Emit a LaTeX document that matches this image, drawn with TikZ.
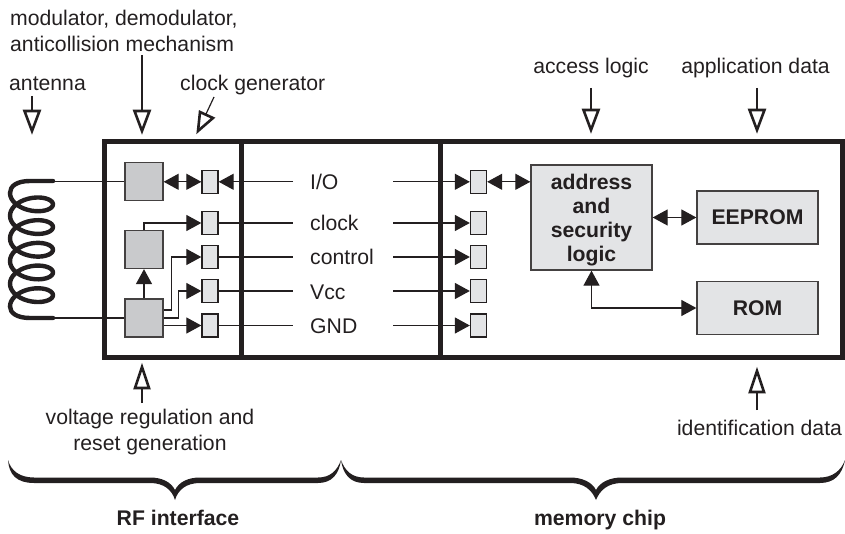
\documentclass[tikz,border=0pt]{standalone}
\usepackage{fontspec}
\setmainfont{Liberation Sans}
\usetikzlibrary{arrows.meta,calc}
\definecolor{ink}{HTML}{231F20}
\definecolor{darkfill}{HTML}{C9CACC}
\definecolor{lightfill}{HTML}{E3E4E6}
\tikzset{
  txt/.style={text=ink,inner sep=0pt,font=\fontsize{21.2}{26}\selectfont},
  boldtxt/.style={txt,font=\fontsize{21.2}{26}\selectfont\bfseries},
  darkbox/.style={draw=ink!85,line width=1.3pt,fill=darkfill,inner sep=0pt,minimum width=38pt,minimum height=38pt},
  pin/.style={draw=ink,line width=1.3pt,fill=lightfill,inner sep=0pt,minimum width=16pt,minimum height=23pt},
  membox/.style={draw=ink!85,line width=1.3pt,fill=lightfill,inner sep=0pt},
  wire/.style={draw=ink,line width=1.2pt},
  solidtip/.style={-{Triangle[length=15pt,width=16pt]}},
  bothtip/.style={{Triangle[length=15pt,width=16pt]}-{Triangle[length=15pt,width=16pt]}},
  callout/.style={draw=ink,line width=1.2pt},
  hollow/.style={draw=ink,line width=2.6pt,fill=white,line join=miter},
  frame/.style={draw=ink,line width=5pt},
  coilline/.style={draw=ink,line width=4.4pt,line cap=round,line join=round},
}
\begin{document}
\begin{tikzpicture}[x=1pt,y=-1pt]
\useasboundingbox (0,0) rectangle (845,534);

% frame
\draw[frame] (104,142) rectangle (842,357);
\draw[frame] (241,142) -- (241,357);
\draw[frame] (440,142) -- (440,357);

% coil
\draw[coilline] plot[variable=\x,domain=0:1800,samples=181] ({31.5-21.5*cos(\x)},{193+\x/360*22.7+12*sin(\x)});
\draw[coilline] (53,181) -- (30,181) .. controls (17,181) and (10,186) .. (10,193);
\draw[coilline] (10,306.5) .. controls (10,313) and (17,318) .. (30,318) -- (53,318);
\coordinate (coilA) at (53,181.8);
\coordinate (coilB) at (53,318);

% RF blocks
\node[darkbox] (mod) at (144,181.8) {};
\node[darkbox] (clk) at (144,249.5) {};
\node[darkbox] (vreg) at (144,318) {};

% pins
\node[pin] (p1) at (210,181.8) {};
\node[pin] (p2) at (210,223) {};
\node[pin] (p3) at (210,257) {};
\node[pin] (p4) at (210,291) {};
\node[pin] (p5) at (210,325.5) {};
\node[pin] (q1) at (478.5,181.8) {};
\node[pin] (q2) at (478.5,223) {};
\node[pin] (q3) at (478.5,257) {};
\node[pin] (q4) at (478.5,291) {};
\node[pin] (q5) at (478.5,325.5) {};

% memory blocks
\node[membox,minimum width=121pt,minimum height=105pt,align=center,boldtxt,font=\fontsize{21.2}{24}\selectfont\bfseries] (addr) at (591.5,217.5) {\rule{0pt}{21pt}address\\and\\security\\logic};
\node[membox,minimum width=121pt,minimum height=53pt,boldtxt] (eeprom) at (757.5,217.5) {EEPROM};
\node[membox,minimum width=121pt,minimum height=53pt,boldtxt] (rom) at (757.5,308) {ROM};

% signal labels
\node[txt,anchor=base west] (lio) at (310,190) {I/O};
\node[txt,anchor=base west] (lclock) at (310,231) {clock};
\node[txt,anchor=base west] (lcontrol) at (310,265) {control};
\node[txt,anchor=base west] (lvcc) at (310,299) {Vcc};
\node[txt,anchor=base west] (lgnd) at (310,333) {GND};

\foreach \n/\y in {1/181.8,2/223,3/257,4/291,5/325.5}{
  \coordinate (la\n) at (293,\y);
  \coordinate (ra\n) at (393,\y);
  \draw[wire,solidtip] (ra\n) -- (q\n.west);
}
\foreach \n in {2,3,4,5}{ \draw[wire] (p\n.east) -- (la\n); }
\draw[wire,solidtip] (la1) -- (p1.east);

% connectors
\draw[wire] (coilA) -- (mod.west);
\draw[wire] (coilB) -- (vreg.west);
\draw[wire,bothtip] (mod.east) -- (p1.west);
\draw[wire,solidtip] (clk.north) |- (p2.west);
\draw[wire,solidtip] (vreg.north) -- (clk.south);
\coordinate (v3) at ($(vreg.east)+(0,-8)$);
\coordinate (v4) at (vreg.east);
\draw[wire,solidtip] (v3) -- ++(8,0) |- (p3.west);
\draw[wire,solidtip] (v4) -- ++(15,0) |- (p4.west);
\draw[wire,solidtip] (vreg.east |- p5) -- (p5.west);
\draw[wire,bothtip] (q1.east) -- (addr.west |- q1);
\draw[wire,bothtip] (addr.east) -- (eeprom.west);
\draw[wire,bothtip] (addr.south) |- (rom.west);

% top labels
\node[txt,align=left,anchor=north west] (lmod) at (10,9.5) {modulator, demodulator,\\anticollision mechanism};
\node[txt,anchor=base west] (lant) at (9,90.5) {antenna};
\node[txt,anchor=base west] (lclk) at (180,90.5) {clock generator};
\node[txt,anchor=base] (lacc) at (591,74) {access logic};
\node[txt,anchor=base] (lapp) at (755.5,74) {application data};
\node[txt,align=center] (lvolt) at (150,432) {voltage regulation and\\reset generation};
\node[txt,anchor=base] (lid) at (759.5,435) {identification data};
\node[boldtxt,anchor=base] (lrf) at (178,525) {RF interface};
\node[boldtxt,anchor=base] (lmem) at (600,525) {memory chip};

% callouts
\foreach \x/\a/\b/\c in {32/96/111/131,142/55/111/131,591/88/110/130,757/88/110/130}{
  \draw[callout] (\x,\a) -- (\x,\b);
  \draw[hollow] (\x-7.5,\b) -- (\x+7.5,\b) -- (\x,\c) -- cycle;
}
\draw[callout] (214,97) -- (206,114);
\draw[hollow] (200,112) -- (213,118) -- (198,131) -- cycle;
\foreach \x/\a/\b/\c in {142/403/388/367,757/410/392/371}{
  \draw[callout] (\x,\a) -- (\x,\b);
  \draw[hollow] (\x-7,\b) -- (\x+7,\b) -- (\x,\c) -- cycle;
}

% braces
\fill[ink] (8,460) .. controls (9,475) and (17,483) .. (34,483) -- (150,483)
  .. controls (164,483) and (172,490) .. (175,500) .. controls (178,490) and (186,483) .. (200,483)
  -- (318,483) .. controls (332,483) and (339,474) .. (341,460)
  .. controls (337,471) and (330,477.5) .. (318,477.5) -- (200,477.5)
  .. controls (188,477.5) and (179,482) .. (175,490) .. controls (171,482) and (162,477.5) .. (150,477.5)
  -- (34,477.5) .. controls (20,477.5) and (11,471) .. (8,460) -- cycle;
\fill[ink] (341,460) .. controls (343,474) and (350,483) .. (364,483) -- (570,483)
  .. controls (584,483) and (592,490) .. (596,500) .. controls (600,490) and (608,483) .. (622,483)
  -- (820,483) .. controls (834,483) and (842,475) .. (845,460)
  .. controls (841,471) and (832,477.5) .. (820,477.5) -- (622,477.5)
  .. controls (610,477.5) and (600,482) .. (596,490) .. controls (592,482) and (582,477.5) .. (570,477.5)
  -- (364,477.5) .. controls (352,477.5) and (345,471) .. (341,460) -- cycle;
\end{tikzpicture}
\end{document}
